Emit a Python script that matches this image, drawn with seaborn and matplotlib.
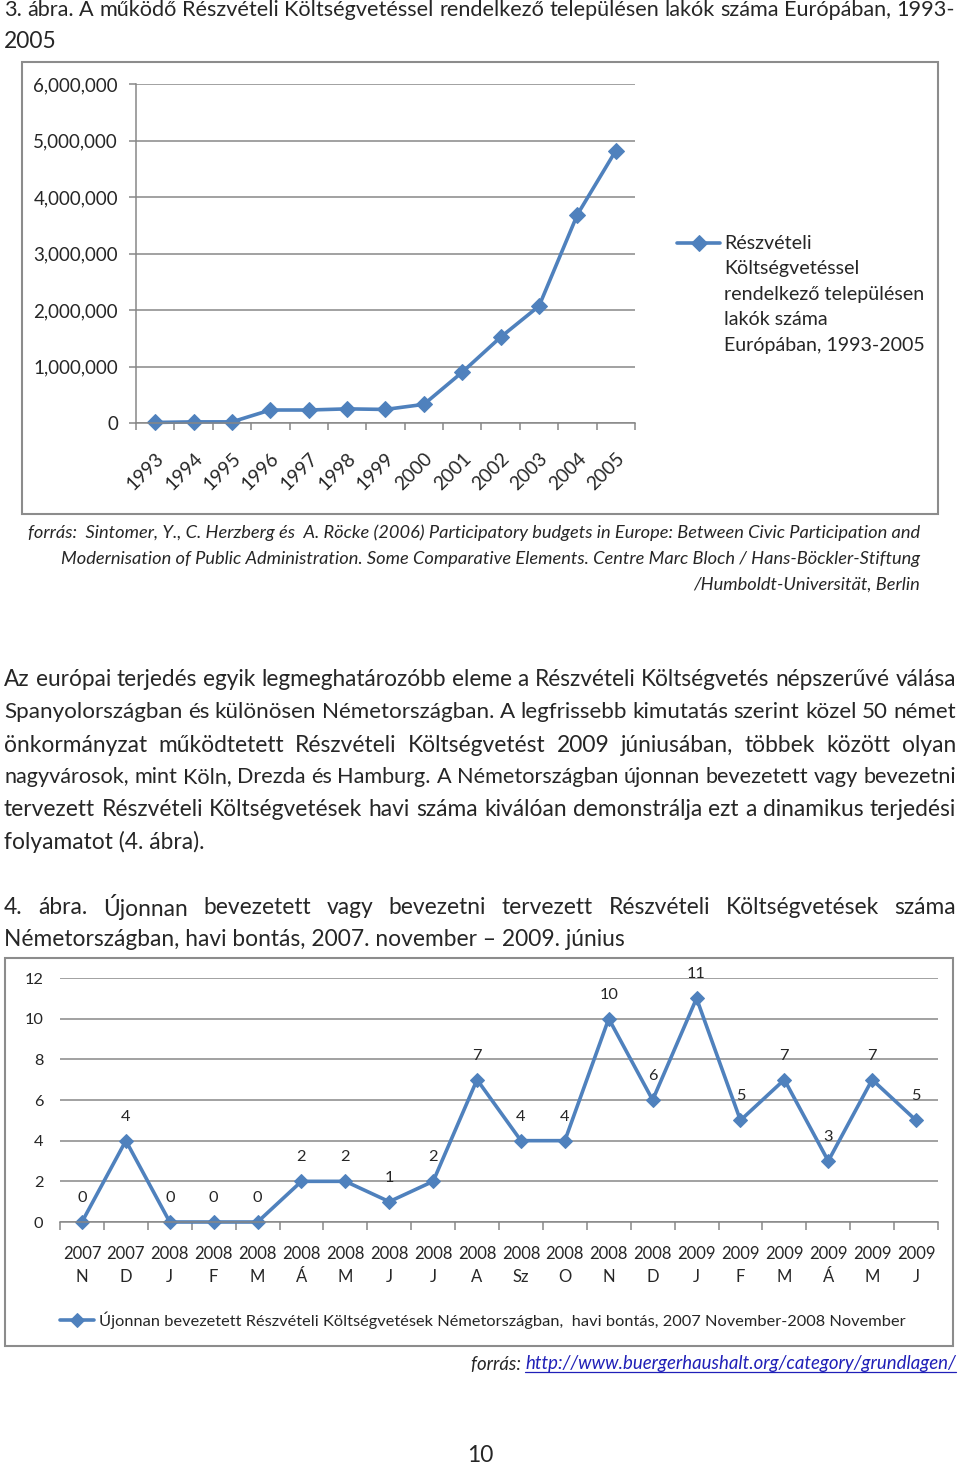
import numpy as np
import pandas as pd
import matplotlib
matplotlib.use("Agg")
import matplotlib.pyplot as plt
from matplotlib.lines import Line2D
from matplotlib.patches import Rectangle
import seaborn as sns

# ---------------- data ----------------
years = ["1993", "1994", "1995", "1996", "1997", "1998", "1999",
         "2000", "2001", "2002", "2003", "2004", "2005"]
residents = [10000, 20000, 20000, 230000, 230000, 250000, 240000,
             330000, 900000, 1520000, 2070000, 3690000, 4820000]
series1_label = ("Részvételi\nKöltségvetéssel\nrendelkező településen\n"
                 "lakók száma\nEurópában, 1993-2005")
y1_ticks = [0, 1000000, 2000000, 3000000, 4000000, 5000000, 6000000]

month_years = ["2007", "2007", "2008", "2008", "2008", "2008", "2008", "2008",
               "2008", "2008", "2008", "2008", "2008", "2008", "2009", "2009",
               "2009", "2009", "2009", "2009"]
months = ["N", "D", "J", "F", "M", "Á", "M", "J", "J", "A", "Sz", "O", "N",
          "D", "J", "F", "M", "Á", "M", "J"]
new_pb = [0, 4, 0, 0, 0, 2, 2, 1, 2, 7, 4, 4, 10, 6, 11, 5, 7, 3, 7, 5]
series2_label = ("Újonnan bevezetett Részvételi Költségvetések Németországban,  "
                 "havi bontás, 2007 November-2008 November")
y2_ticks = [0, 2, 4, 6, 8, 10, 12]

title3_lines = ["3. ábra. A működő Részvételi Költségvetéssel rendelkező településen lakók száma Európában, 1993-",
                "2005"]
source1_lines = ["forrás:  Sintomer, Y., C. Herzberg és  A. Röcke (2006) Participatory budgets in Europe: Between Civic Participation and",
                 "Modernisation of Public Administration. Some Comparative Elements. Centre Marc Bloch / Hans-Böckler-Stiftung",
                 "/Humboldt-Universität, Berlin"]
para_lines = ["Az európai terjedés egyik legmeghatározóbb eleme a Részvételi Költségvetés népszerűvé válása",
              "Spanyolországban és különösen Németországban. A legfrissebb kimutatás szerint közel 50 német",
              "önkormányzat működtetett Részvételi Költségvetést 2009 júniusában, többek között olyan",
              "nagyvárosok, mint Köln, Drezda és Hamburg. A Németországban újonnan bevezetett vagy bevezetni",
              "tervezett Részvételi Költségvetések havi száma kiválóan demonstrálja ezt a dinamikus terjedési",
              "folyamatot (4. ábra)."]
caption4_lines = ["4. ábra. Újonnan bevezetett vagy bevezetni tervezett Részvételi Költségvetések száma",
                  "Németországban, havi bontás, 2007. november – 2009. június"]
source2_prefix = "forrás: "
source2_url = "http://www.buergerhaushalt.org/category/grundlagen/"
page_number = "10"

# ---------------- style ----------------
sns.set_style("white")
plt.rcParams["font.family"] = ["Lato", "DejaVu Sans"]

W, H = 960, 1467
fig = plt.figure(figsize=(W / 100, H / 100), dpi=100)
BLUE = "#4F81BD"
GRID = "#878787"
BODY = 16.4
renderer = fig.canvas.get_renderer()


def fx(x):
    return x / W


def fy(y):
    return 1 - y / H


def text_at(x, y, s, **kw):
    return fig.text(fx(x), fy(y), s, va="center", **kw)


def justify(line, y, x0, x1, size, **kw):
    words = line.split(" ")
    while True:
        texts = [fig.text(0, 0, w, fontsize=size, va="center", **kw) for w in words]
        widths = [t.get_window_extent(renderer).width for t in texts]
        gap = (x1 - x0 - sum(widths)) / max(len(words) - 1, 1)
        if gap >= 0.24 * size * 100 / 72 or size < 10:
            break
        for t in texts:
            t.remove()
        size -= 0.1
    x = x0
    for t, w in zip(texts, widths):
        t.set_position((fx(x), fy(y)))
        x += w + gap


# ---------------- page text ----------------
justify(title3_lines[0], 10, 4, 955, BODY)
text_at(4, 42, title3_lines[1], fontsize=BODY)

for line, y in zip(source1_lines, [533, 559, 585]):
    text_at(920, y, line, ha="right", fontsize=13.18, style="italic")

para_y = [680, 712, 745, 777, 810, 842]
for i, (line, y) in enumerate(zip(para_lines, para_y)):
    if i < len(para_lines) - 1:
        justify(line, y, 4, 956, BODY)
    else:
        text_at(4, y, line, fontsize=BODY)

justify(caption4_lines[0], 907, 4, 956, BODY)
text_at(4, 939, caption4_lines[1], fontsize=BODY)

url = text_at(956, 1364, source2_url, ha="right", fontsize=13.4,
              style="italic", color="#2020B8")
ub = url.get_window_extent(renderer)
text_at(ub.x0, 1364, source2_prefix, ha="right", fontsize=13.4, style="italic")
fig.add_artist(Line2D([ub.x0 / W, ub.x1 / W], [(ub.y0 + 1) / H, (ub.y0 + 1) / H],
                      transform=fig.transFigure, color="#2020B8", lw=0.9))

text_at(480, 1456, page_number, ha="center", fontsize=BODY)

# chart frames
fig.add_artist(Rectangle((fx(22), fy(514)), (938 - 22) / W, (514 - 62) / H,
                         transform=fig.transFigure, fill=False, ec="#8c8c8c", lw=1.5))
fig.add_artist(Rectangle((fx(5), fy(1346)), (953 - 5) / W, (1346 - 958) / H,
                         transform=fig.transFigure, fill=False, ec="#8c8c8c", lw=1.5))

# ---------------- chart 3 ----------------
ax1 = fig.add_axes([fx(136), fy(423), 499 / W, 339 / H])
df1 = pd.DataFrame({"year": years, "residents": residents})
sns.lineplot(data=df1, x="year", y="residents", ax=ax1, color=BLUE, lw=2.6,
             marker="D", markersize=8.5, markeredgecolor=BLUE, clip_on=False,
             label=series1_label, sort=False)
ax1.set_xlim(-0.5, len(years) - 0.5)
ax1.set_ylim(0, 6000000)
ax1.set_yticks(y1_ticks)
ax1.set_yticklabels([f"{v:,}" for v in y1_ticks])
ax1.yaxis.grid(True, color=GRID, lw=1.1)
ax1.xaxis.grid(False)
ax1.set_axisbelow(True)
for s in ["top", "right"]:
    ax1.spines[s].set_visible(False)
for s in ["left", "bottom"]:
    ax1.spines[s].set_color(GRID)
    ax1.spines[s].set_linewidth(1.1)
ax1.tick_params(axis="y", left=True, length=5, width=1.1, color=GRID,
                direction="out", pad=8, labelsize=13.5)
ax1.set_xticks(np.arange(-0.5, len(years), 1))
ax1.set_xticklabels([])
ax1.set_xticks(np.arange(len(years)), minor=True)
ax1.set_xticklabels(years, minor=True, rotation=45, ha="right",
                    rotation_mode="anchor", fontsize=13.8)
ax1.tick_params(axis="x", which="major", bottom=True, length=5, width=1.1,
                color=GRID, direction="out")
ax1.tick_params(axis="x", which="minor", bottom=True, length=0, pad=19)
ax1.set_xlabel("")
ax1.set_ylabel("")
leg1 = ax1.legend(loc="center left", bbox_to_anchor=(fx(677), fy(242)),
                  bbox_transform=fig.transFigure, frameon=False, fontsize=14.1,
                  handlelength=2.2, handletextpad=0.2, borderpad=0,
                  borderaxespad=0, handleheight=18.3)
for t in leg1.get_texts():
    t.set_linespacing(1.6)
# shift legend so the first text line sits where the reference has it
fig.canvas.draw()
tb = leg1.get_texts()[0].get_window_extent(renderer)
dy = (H - 235) - tb.y1
leg1.set_bbox_to_anchor((fx(677), fy(242) + dy / H), transform=fig.transFigure)

# ---------------- chart 4 ----------------
ax2 = fig.add_axes([fx(60), fy(1222), 878 / W, 244 / H])
df2 = pd.DataFrame({"idx": np.arange(len(new_pb)), "count": new_pb})
sns.lineplot(data=df2, x="idx", y="count", ax=ax2, color=BLUE, lw=2.6,
             marker="D", markersize=7.5, markeredgecolor=BLUE, clip_on=False,
             label=series2_label)
for i, v in zip(df2["idx"], df2["count"]):
    ax2.annotate(str(v), (i, v), xytext=(0, 24), textcoords="offset pixels",
                 ha="center", va="center", fontsize=11.8)
ax2.set_xlim(-0.5, len(new_pb) - 0.5)
ax2.set_ylim(0, 12)
ax2.set_yticks(y2_ticks)
ax2.set_yticklabels([str(v) for v in y2_ticks])
ax2.yaxis.grid(True, color=GRID, lw=1.1)
ax2.xaxis.grid(False)
ax2.set_axisbelow(True)
for s in ["top", "right", "left"]:
    ax2.spines[s].set_visible(False)
ax2.spines["bottom"].set_color(GRID)
ax2.spines["bottom"].set_linewidth(1.1)
ax2.tick_params(axis="y", left=False, length=0, pad=12, labelsize=11.8)
ax2.set_xticks(np.arange(-0.5, len(new_pb), 1))
ax2.set_xticklabels([])
ax2.set_xticks(np.arange(len(new_pb)), minor=True)
ax2.set_xticklabels([f"{y}\n{m}" for y, m in zip(month_years, months)],
                    minor=True, fontsize=12, linespacing=1.6)
ax2.tick_params(axis="x", which="major", bottom=True, length=6, width=1.1,
                color=GRID, direction="out")
ax2.tick_params(axis="x", which="minor", bottom=True, length=0, pad=17)
ax2.set_xlabel("")
ax2.set_ylabel("")
ax2.legend(loc="center left", bbox_to_anchor=(fx(60), fy(1320)),
           bbox_transform=fig.transFigure, frameon=False, fontsize=11.8,
           handlelength=2.1, handletextpad=0.25, borderpad=0, borderaxespad=0)

fig.savefig("out.png", dpi=100)
